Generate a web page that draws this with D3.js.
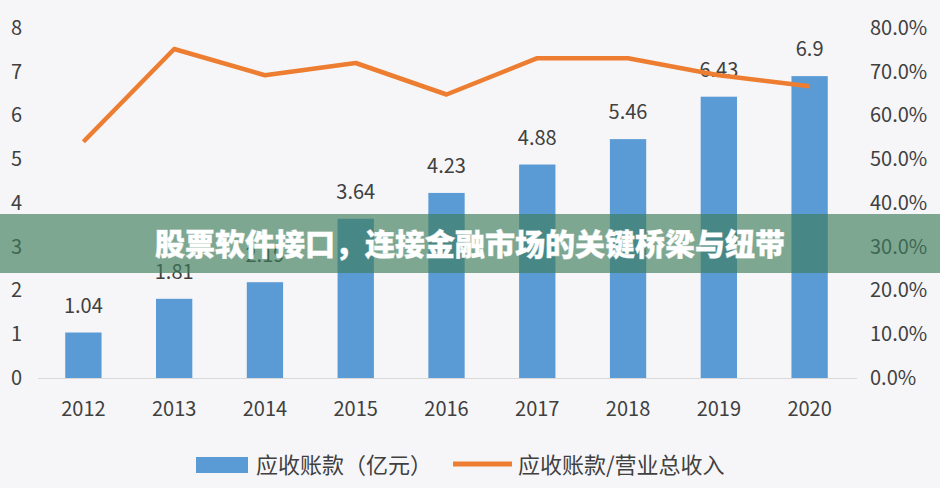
<!DOCTYPE html>
<html>
<head>
<meta charset="utf-8">
<script src="https://cdn.jsdelivr.net/npm/d3@7/dist/d3.min.js"></script>
<style>
  html, body { margin: 0; padding: 0; background: #f6f6f8; }
  svg { display: block; }
  text { font-family: "Noto Sans CJK SC", "Noto Sans", sans-serif; }
</style>
</head>
<body>
<svg id="chart" width="940" height="488"></svg>
<script>
const years = ["2012", "2013", "2014", "2015", "2016", "2017", "2018", "2019", "2020"];
const receivables = [1.04, 1.81, 2.19, 3.64, 4.23, 4.88, 5.46, 6.43, 6.9];
const ratio = [0.540, 0.752, 0.692, 0.720, 0.648, 0.731, 0.731, 0.692, 0.667];
const leftTicks = [0, 1, 2, 3, 4, 5, 6, 7, 8];
const rightTicks = [0, 0.1, 0.2, 0.3, 0.4, 0.5, 0.6, 0.7, 0.8];
const seriesNames = ["应收账款（亿元）", "应收账款/营业总收入"];
const bannerText = "股票软件接口，连接金融市场的关键桥梁与纽带";

const svg = d3.select("#chart");
const W = 940, H = 488;
const margin = { left: 38, right: 85, top: 28, bottom: 110 };
const x0 = 38, x1 = 855, yBase = 378, yTop = 28;

svg.append("rect").attr("width", W).attr("height", H).attr("fill", "#f6f6f8");

const x = d3.scaleBand().domain(years).range([x0, x1]).paddingInner(0.6).paddingOuter(0.3);
const yL = d3.scaleLinear().domain([0, 8]).range([yBase, yTop]);
const yR = d3.scaleLinear().domain([0, 0.8]).range([yBase, yTop]);

const textColor = "#404040";

// left axis
const axL = d3.axisLeft(yL).tickValues(leftTicks).tickSize(0).tickPadding(0).tickFormat(d3.format("d"));
const gL = svg.append("g").attr("transform", "translate(22,0)").call(axL);
gL.select(".domain").remove();
gL.selectAll("text").attr("font-size", 20).attr("fill", textColor).attr("font-family", "'Noto Sans CJK SC', sans-serif");

// right axis
const axR = d3.axisRight(yR).tickValues(rightTicks).tickSize(0).tickPadding(0).tickFormat(d3.format(".1%"));
const gR = svg.append("g").attr("transform", "translate(870,0)").call(axR);
gR.select(".domain").remove();
gR.selectAll("text").attr("font-size", 20).attr("fill", textColor).attr("font-family", "'Noto Sans CJK SC', sans-serif");

// x axis
const axX = d3.axisBottom(x).tickSize(0).tickPadding(0);
const gX = svg.append("g").attr("transform", `translate(0,${yBase})`).call(axX);
gX.select(".domain").attr("stroke", "#d9d9d9").attr("stroke-width", 1.2).attr("d", `M${x0},0.5H${x1 + 2}`);
gX.selectAll("text").attr("font-size", 20).attr("fill", textColor).attr("dy", null).attr("y", 38)
  .attr("font-family", "'Noto Sans CJK SC', sans-serif");

// bars
svg.append("g").selectAll("rect").data(years).join("rect")
  .attr("x", d => x(d))
  .attr("width", x.bandwidth())
  .attr("y", (d, i) => yL(receivables[i]))
  .attr("height", (d, i) => yBase - yL(receivables[i]))
  .attr("fill", "#5B9BD5");

// bar labels
svg.append("g").selectAll("text").data(years).join("text")
  .attr("x", d => x(d) + x.bandwidth() / 2)
  .attr("y", (d, i) => yL(receivables[i]) - 20)
  .attr("text-anchor", "middle")
  .attr("font-size", 20)
  .attr("fill", textColor)
  .text((d, i) => receivables[i]);

// line
const line = d3.line()
  .x((d, i) => x(years[i]) + x.bandwidth() / 2)
  .y(d => yR(d));
svg.append("path").datum(ratio)
  .attr("d", line)
  .attr("fill", "none")
  .attr("stroke", "#ED7D31")
  .attr("stroke-width", 4.5)
  .attr("stroke-linejoin", "round");

// legend
const lg = svg.append("g");
lg.append("rect").attr("x", 196).attr("y", 457).attr("width", 52).attr("height", 16).attr("fill", "#5B9BD5");
lg.append("text").attr("x", 256).attr("y", 465).attr("dy", "0.35em").attr("font-size", 22).attr("fill", textColor).text(seriesNames[0]);
lg.append("line").attr("x1", 453).attr("x2", 512).attr("y1", 464).attr("y2", 464).attr("stroke", "#ED7D31").attr("stroke-width", 5);
lg.append("text").attr("x", 518).attr("y", 465).attr("dy", "0.35em").attr("font-size", 22).attr("fill", textColor).text(seriesNames[1]);

// banner overlay
svg.append("rect").attr("x", 0).attr("y", 214).attr("width", W).attr("height", 59).attr("fill", "rgba(62,125,91,0.65)");
svg.append("text").attr("x", 470).attr("y", 244).attr("dy", "0.36em")
  .attr("text-anchor", "middle").attr("font-size", 30).attr("font-weight", 900)
  .attr("fill", "#ffffff")
  .style("paint-order", "stroke").attr("stroke", "rgba(255,255,255,0.6)").attr("stroke-width", 0.8)
  .text(bannerText);
</script>
</body>
</html>
